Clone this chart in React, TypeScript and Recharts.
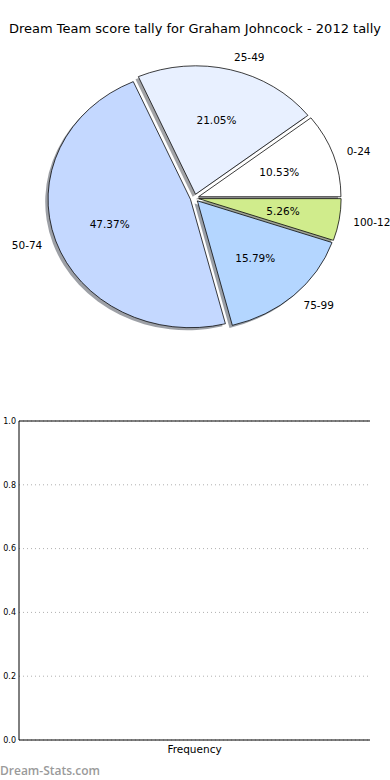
import React from "react";
import {
  PieChart, Pie, Cell,
  BarChart, Bar, XAxis, YAxis, CartesianGrid, ReferenceLine,
} from "recharts";

// ---- data ----
const categories = ["0-24", "25-49", "50-74", "75-99", "100-124"];
const counts = [2, 4, 9, 3, 1];
const sliceColors = ["#ffffff", "#e8f0ff", "#c4d8ff", "#b4d6ff", "#d0ec8c"];
const yTicks = [0, 0.2, 0.4, 0.6, 0.8, 1.0];
const freqCategories = [""];
const freqValues = [0];

const pieData = categories.map((name, i) => ({ name, value: counts[i] }));
const barData = freqCategories.map((name, i) => ({ name, value: freqValues[i] }));

// ---- pie geometry ----
const FONT = "'DejaVu Sans', sans-serif";
const CX = 194.5;
const CY = 198;
const R = 142.4; // horizontal radius
const SQUASH = 0.902; // ry / rx (pie axes were not equal)
const EXPLODE = 0.03;
const SHADOW = 0.02;
const RAD = Math.PI / 180;

const total = counts.reduce((a, b) => a + b, 0);
const midAngles = counts.map((v, i) => {
  const before = counts.slice(0, i).reduce((a, b) => a + b, 0);
  return ((before + v / 2) / total) * 360;
});

const darken = (hex: string, f: number) => {
  const n = parseInt(hex.slice(1), 16);
  const r = Math.round(((n >> 16) & 255) * f);
  const g = Math.round(((n >> 8) & 255) * f);
  const b = Math.round((n & 255) * f);
  return `rgb(${r},${g},${b})`;
};

const unsquash = (y: number) =>
  `translate(0 ${y}) scale(1 ${1 / SQUASH}) translate(0 ${-y})`;

const makeLabel = (only: number) => (props: any) => {
  const { cx, cy, midAngle, outerRadius, percent, index } = props;
  if (index !== only) return null;
  const c = Math.cos(-midAngle * RAD);
  const s = Math.sin(-midAngle * RAD);
  const px = cx + outerRadius * 0.6 * c;
  const py = cy + outerRadius * 0.6 * s;
  const lx = cx + outerRadius * 1.1 * c;
  const ly = cy + outerRadius * 1.1 * s;
  return (
    <g>
      <text x={px} y={py} transform={unsquash(py)} textAnchor="middle"
        dominantBaseline="central" fontFamily={FONT} fontSize={10.5} fill="#000">
        {(percent * 100).toFixed(2) + "%"}
      </text>
      <text x={lx} y={ly} transform={unsquash(ly)} textAnchor={c > 0 ? "start" : "end"}
        dominantBaseline="central" fontFamily={FONT} fontSize={10.5} fill="#000">
        {pieData[index].name}
      </text>
    </g>
  );
};

const ExplodedPie = () => (
  <PieChart width={390} height={360} margin={{ top: 0, right: 0, bottom: 0, left: 0 }}>
    {/* shadows, all below the wedges */}
    {pieData.map((_, i) => (
      <Pie
        key={"s" + i}
        data={pieData}
        dataKey="value"
        cx={CX + EXPLODE * R * Math.cos(midAngles[i] * RAD) - SHADOW * R}
        cy={CY - EXPLODE * R * Math.sin(midAngles[i] * RAD) + SHADOW * R}
        outerRadius={R}
        startAngle={0}
        endAngle={360}
        isAnimationActive={false}
        labelLine={false}
      >
        {pieData.map((_, j) => (
          <Cell key={j} fill={j === i ? darken(sliceColors[j], 0.3) : "none"}
            fillOpacity={0.5} stroke="none" />
        ))}
      </Pie>
    ))}
    {pieData.map((_, i) => (
      <Pie
        key={"w" + i}
        data={pieData}
        dataKey="value"
        cx={CX + EXPLODE * R * Math.cos(midAngles[i] * RAD)}
        cy={CY - EXPLODE * R * Math.sin(midAngles[i] * RAD)}
        outerRadius={R}
        startAngle={0}
        endAngle={360}
        isAnimationActive={false}
        labelLine={false}
        label={makeLabel(i)}
      >
        {pieData.map((_, j) => (
          <Cell key={j} fill={j === i ? sliceColors[j] : "none"}
            stroke={j === i ? "#000" : "none"} strokeWidth={0.8} />
        ))}
      </Pie>
    ))}
  </PieChart>
);

export default function App() {
  return (
    <div style={{ position: "absolute", left: 0, top: 0, width: 390, height: 780, background: "#fff", fontFamily: FONT, overflow: "hidden" }}>
      <div style={{ position: "absolute", left: 0, top: 21, width: 390, textAlign: "center", fontSize: 13, color: "#000", whiteSpace: "nowrap" }}>
        Dream Team score tally for Graham Johncock - 2012 tally
      </div>

      <div style={{ position: "absolute", left: 0, top: 0, width: 390, height: 360,
        transform: `scaleY(${SQUASH})`, transformOrigin: `${CX}px ${CY}px` }}>
        <ExplodedPie />
      </div>

      <div style={{ position: "absolute", left: 0, top: 410 }}>
        <BarChart width={390} height={370} data={barData}
          margin={{ top: 11, right: 20, bottom: 16, left: 0 }}>
          <CartesianGrid vertical={false} stroke="#b0b0b0" strokeDasharray="1 3" />
          <XAxis dataKey="name" tick={false} tickLine={false} axisLine={{ stroke: "#000" }}
            height={24}
            label={(p: any) => {
              const vb = p.viewBox || {};
              return (
                <text x={vb.x + vb.width / 2} y={vb.y + 13} textAnchor="middle"
                  fontFamily={FONT} fontSize={10.5} fill="#000">Frequency</text>
              );
            }} />
          <YAxis domain={[0, 1]} ticks={yTicks} width={19} tickLine={false} tickSize={0}
            axisLine={{ stroke: "#000" }} interval={0}
            tick={{ fontSize: 8, fill: "#000", fontFamily: FONT }}
            tickFormatter={(v: number) => v.toFixed(1)} tickMargin={3} />
          <YAxis yAxisId="r" orientation="right" width={0} tick={false} tickLine={false}
            axisLine={{ stroke: "#000" }} domain={[0, 1]} />
          <ReferenceLine y={1} stroke="#000" />
          <Bar dataKey="value" fill="#4a7ebb" isAnimationActive={false} />
        </BarChart>
      </div>

      <div style={{ position: "absolute", left: 0, top: 762, fontFamily: "'Open Sans', sans-serif",
        fontWeight: 600, fontSize: 12, color: "#9a9a9a" }}>
        Dream-Stats.com
      </div>
    </div>
  );
}
